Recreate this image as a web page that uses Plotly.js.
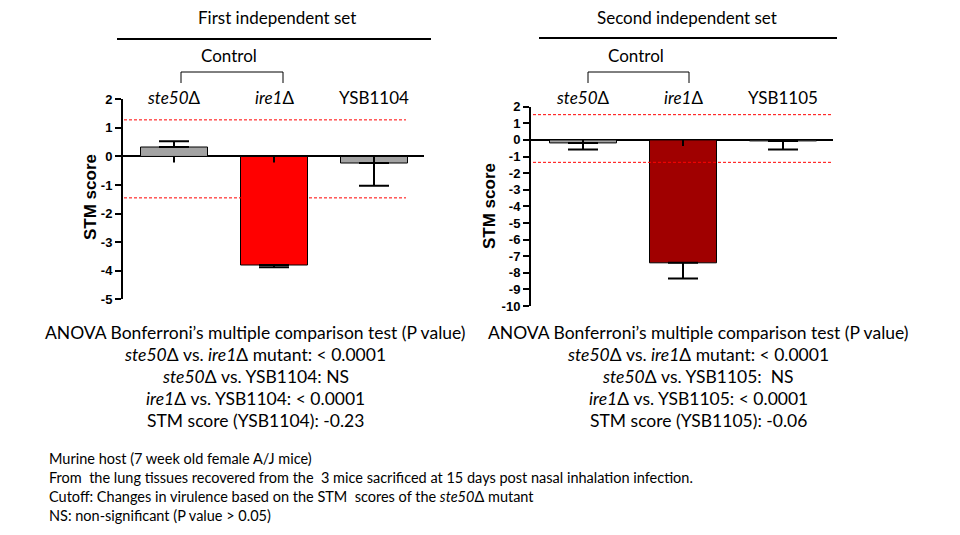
<!DOCTYPE html>
<html>
<head>
<meta charset="utf-8">
<script src="https://cdn.plot.ly/plotly-3.0.1.min.js"></script>
<style>
  html, body {margin: 0; padding: 0; background: #fff;}
  #chart {width: 960px; height: 535px;}
</style>
</head>
<body>
<div id="chart"></div>
<script>
/////Data/////
const CATS = ['ste50', 'ire1', 'YSB'];
const CAT_LABELS_1 = ['<i>ste50</i>Δ', '<i>ire1</i>Δ', 'YSB1104'];
const CAT_LABELS_2 = ['<i>ste50</i>Δ', '<i>ire1</i>Δ', 'YSB1105'];

const SET1_VALUES = [0.33, -3.8, -0.23];
const SET1_ERR_UP = [0.2, 0, 0];
const SET1_ERR_DOWN = [0, 0.08, 0.8];
const SET1_CUTOFF = [1.28, -1.45];

const SET2_VALUES = [-0.18, -7.4, -0.06];
const SET2_ERR_UP = [0, 0, 0];
const SET2_ERR_DOWN = [0.4, 0.95, 0.52];
const SET2_CUTOFF = [1.52, -1.35];

const SET1_TICKS = [2, 1, 0, -1, -2, -3, -4, -5];
const SET2_TICKS = [2, 1, 0, -1, -2, -3, -4, -5, -6, -7, -8, -9, -10];

const SET1_COLORS = ['#a3a3a3', '#ff0000', '#a3a3a3'];
const SET2_COLORS = ['#a3a3a3', '#a00000', '#a3a3a3'];

const STATS_1 = [
  'ANOVA Bonferroni’s multiple comparison test (P value)',
  '<i>ste50</i>Δ vs. <i>ire1</i>Δ mutant: < 0.0001',
  '<i>ste50</i>Δ vs. YSB1104: NS',
  '<i>ire1</i>Δ vs. YSB1104: < 0.0001',
  'STM score (YSB1104): -0.23'
];
const STATS_2 = [
  'ANOVA Bonferroni’s multiple comparison test (P value)',
  '<i>ste50</i>Δ vs. <i>ire1</i>Δ mutant: < 0.0001',
  '<i>ste50</i>Δ vs. YSB1105: \u00a0NS',
  '<i>ire1</i>Δ vs. YSB1105: < 0.0001',
  'STM score (YSB1105): -0.06'
];
const FOOTNOTES = [
  'Murine host (7 week old female A/J mice)',
  'From \u00a0the lung tissues recovered from the \u00a03 mice sacrificed at 15 days post nasal inhalation infection.',
  'Cutoff: Changes in virulence based on the STM \u00a0scores of the <i>ste50</i>Δ mutant',
  'NS: non-significant (P value > 0.05)'
];

/////Helpers/////
const W = 960, H = 535;
const TXT = 'Lato, "Open Sans", sans-serif';
const ARIAL = '"Liberation Sans", Arial, sans-serif';
const px = (x) => x / W;
const py = (y) => 1 - y / H;

function barTrace(values, up, down, colors, xa, ya) {
  return {
    type: 'bar',
    x: CATS,
    y: values,
    xaxis: xa,
    yaxis: ya,
    marker: {color: colors, line: {color: '#000', width: 1}},
    error_y: {
      type: 'data', symmetric: false, array: up, arrayminus: down,
      color: '#000', thickness: 2, width: 15
    },
    hoverinfo: 'none'
  };
}

function yAxis(domain, ticks, xa) {
  return {
    domain: domain,
    anchor: xa,
    range: [ticks[ticks.length - 1], ticks[0]],
    showline: true, linecolor: '#000', linewidth: 2,
    ticks: 'outside', ticklen: 6, tickwidth: 2, tickcolor: '#000',
    tickvals: ticks,
    ticktext: ticks.map((t) => String(t)),
    tickfont: {family: ARIAL, size: 13, color: '#000', weight: 'bold'},
    showgrid: false,
    zeroline: true, zerolinecolor: '#000', zerolinewidth: 2,
    fixedrange: true
  };
}

function xAxis(domain, range, ya) {
  return {
    domain: domain,
    anchor: ya,
    type: 'category',
    range: range,
    showline: false, showticklabels: false, ticks: '', showgrid: false,
    zeroline: false, fixedrange: true
  };
}

function cutoffShapes(cuts, xa, ya, xEnd) {
  return cuts.map((c) => ({
    type: 'line', xref: xa, yref: ya,
    x0: -0.55, x1: xEnd, y0: c, y1: c,
    line: {color: '#ff0000', width: 1, dash: '3px,2px'}
  }));
}

function catTicks(xa, ya) {
  return CATS.map((c, i) => ({
    type: 'line', xref: xa, yref: ya, layer: 'above',
    ysizemode: 'pixel', yanchor: 0,
    x0: i, x1: i, y0: 0, y1: -6,
    line: {color: '#000', width: 2}
  }));
}

function bracket(x0, x1) {
  return {
    type: 'path', xref: 'paper', yref: 'paper',
    path: `M ${px(x0)} ${py(83)} L ${px(x0)} ${py(72)} L ${px(x1)} ${py(72)} L ${px(x1)} ${py(83)}`,
    line: {color: '#000', width: 1}
  };
}

function textAnn(text, x, y, size, opts = {}) {
  return Object.assign({
    text: text, xref: 'paper', yref: 'paper', x: px(x), y: py(y),
    xanchor: 'center', yanchor: 'middle', showarrow: false,
    font: {family: TXT, size: size, color: '#000'}
  }, opts);
}

/////Traces/////
const data = [
  barTrace(SET1_VALUES, SET1_ERR_UP, SET1_ERR_DOWN, SET1_COLORS, 'x', 'y'),
  barTrace(SET2_VALUES, SET2_ERR_UP, SET2_ERR_DOWN, SET2_COLORS, 'x2', 'y2')
];

/////Annotations/////
let annotations = [];
annotations.push(textAnn('First independent set', 277, 18, 17));
annotations.push(textAnn('Second independent set', 687, 18, 17));
annotations.push(textAnn('Control', 229, 55, 17));
annotations.push(textAnn('Control', 636, 55, 17));
CAT_LABELS_1.forEach((t, i) => annotations.push(
    textAnn(t, 0, 98, 17, {xref: 'x', x: i})));
CAT_LABELS_2.forEach((t, i) => annotations.push(
    textAnn(t, 0, 98, 17, {xref: 'x2', x: i})));
const Y_TITLE_FONT = {family: ARIAL, size: 17, color: '#000', weight: 'bold'};
annotations.push(textAnn('STM score', 90, 197, 17,
    {textangle: -90, font: Y_TITLE_FONT}));
annotations.push(textAnn('STM score', 490, 206, 17,
    {textangle: -90, font: Y_TITLE_FONT}));
const STAT_Y = [332, 354, 376, 398, 420];
STATS_1.forEach((t, i) => annotations.push(textAnn(t, 255, STAT_Y[i], 17.5)));
STATS_2.forEach((t, i) => annotations.push(textAnn(t, 698, STAT_Y[i], 17.5)));
const FOOT_Y = [458, 477, 496, 515];
FOOTNOTES.forEach((t, i) => annotations.push(
    textAnn(t, 47, FOOT_Y[i], 14.5, {xanchor: 'left'})));

/////Shapes/////
let shapes = [
  {type: 'line', xref: 'paper', yref: 'paper', x0: px(117), x1: px(431),
   y0: py(39), y1: py(39), line: {color: '#000', width: 2}},
  {type: 'line', xref: 'paper', yref: 'paper', x0: px(539), x1: px(837),
   y0: py(38), y1: py(38), line: {color: '#000', width: 2}},
  bracket(181, 283),
  bracket(588, 689)
];
shapes = shapes.concat(cutoffShapes(SET1_CUTOFF, 'x', 'y', 2.32));
shapes = shapes.concat(cutoffShapes(SET2_CUTOFF, 'x2', 'y2', 2.5));
shapes = shapes.concat(catTicks('x', 'y'), catTicks('x2', 'y2'));

const layout = {
  width: W, height: H,
  margin: {l: 0, r: 0, t: 0, b: 0},
  paper_bgcolor: '#fff', plot_bgcolor: 'rgba(0,0,0,0)',
  showlegend: false,
  bargap: 0.33,
  xaxis: xAxis([px(123), px(424)], [-0.51, 2.5], 'y'),
  yaxis: yAxis([py(299.3), py(99.3)], SET1_TICKS, 'x'),
  xaxis2: xAxis([px(531), px(833)], [-0.52, 2.5], 'y2'),
  yaxis2: yAxis([py(306), py(106.7)], SET2_TICKS, 'x2'),
  annotations: annotations,
  shapes: shapes
};

Plotly.newPlot('chart', data, layout, {staticPlot: true, displayModeBar: false});
</script>
</body>
</html>
